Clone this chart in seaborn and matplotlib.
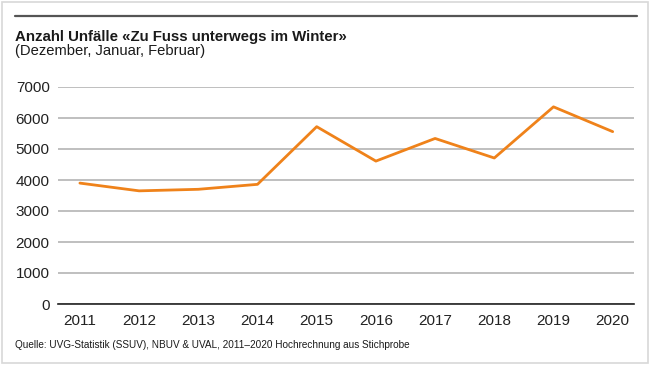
import matplotlib
matplotlib.use("Agg")
import matplotlib.pyplot as plt
import seaborn as sns
import pandas as pd
from matplotlib.patches import Rectangle
from matplotlib.lines import Line2D

years = [2011, 2012, 2013, 2014, 2015, 2016, 2017, 2018, 2019, 2020]
accidents = [3900, 3650, 3700, 3860, 5720, 4610, 5340, 4710, 6360, 5560]
yticks = [0, 1000, 2000, 3000, 4000, 5000, 6000, 7000]

title = "Anzahl Unfälle «Zu Fuss unterwegs im Winter»"
subtitle = "(Dezember, Januar, Februar)"
source = "Quelle: UVG-Statistik (SSUV), NBUV & UVAL, 2011–2020 Hochrechnung aus Stichprobe"

sns.set_theme(style="white")
plt.rcParams['font.family'] = ['Liberation Sans', 'DejaVu Sans']

df = pd.DataFrame({"Jahr": years, "Unfälle": accidents})

fig = plt.figure(figsize=(6.5, 3.66), dpi=100)
ax = fig.add_axes([58/650, 1-304/366, (634-58)/650, (304-87)/366])

sns.lineplot(data=df, x="Jahr", y="Unfälle", ax=ax, color="#EF821A", linewidth=2.0)

ax.set_ylim(0, 7000)
ax.set_xlim(2010.63, 2020.36)
ax.set_yticks(yticks)
ax.set_xticks(years)
ax.set_xticklabels([str(y) for y in years])
ax.set_yticklabels([str(v) for v in yticks])
ax.set_xlabel("")
ax.set_ylabel("")
ax.grid(axis="y", color="#B4B4B4", linewidth=1.2)
ax.set_axisbelow(True)
for s in ["top", "right", "left"]:
    ax.spines[s].set_visible(False)
ax.spines["bottom"].set_color("#222222")
ax.spines["bottom"].set_linewidth(1.2)
ax.tick_params(axis="both", length=0, labelsize=11, colors="#222222", pad=6)
ax.tick_params(axis="x", pad=7)

# figure decorations
fig.patches.append(Rectangle((2/650, 3/366), 646/650, 361/366, transform=fig.transFigure,
                             fill=False, edgecolor="#D8D8D8", linewidth=1.2))
fig.lines.append(Line2D([15/650, 637/650], [1-16/366, 1-16/366], transform=fig.transFigure,
                        color="#555555", linewidth=1.6))

fig.text(15/650, 1-37/366, title, fontsize=10.8, fontweight="bold", color="#1a1a1a",
         va="center", ha="left")
fig.text(15/650, 1-50.5/366, subtitle, fontsize=10.6, color="#1a1a1a", va="center", ha="left")
fig.text(15/650, 1-345/366, source, fontsize=7.2, color="#1a1a1a", va="center", ha="left")

fig.savefig("out.png", dpi=100)
